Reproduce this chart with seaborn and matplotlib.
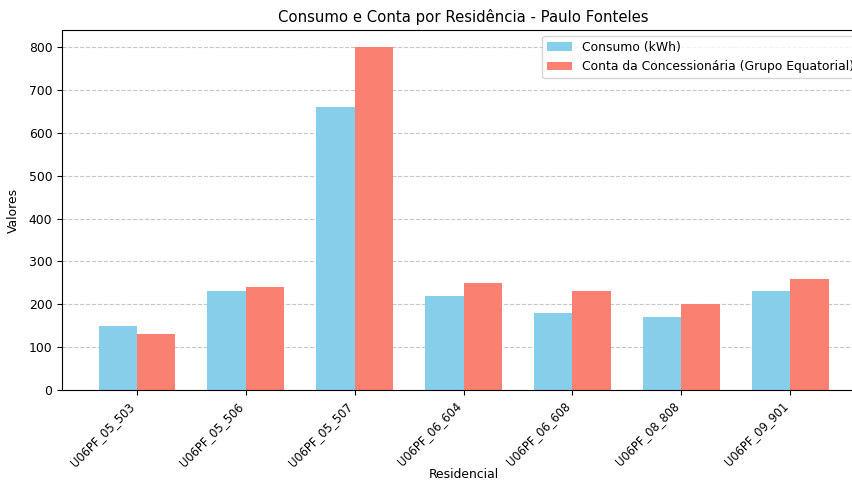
import pandas as pd
import matplotlib.pyplot as plt
import seaborn as sns

# Dados por residência
residencias = ['U06PF_05_503', 'U06PF_05_506', 'U06PF_05_507', 'U06PF_06_604',
               'U06PF_06_608', 'U06PF_08_808', 'U06PF_09_901']
consumo = [150, 230, 660, 220, 180, 170, 230]
conta = [130, 240, 800, 250, 230, 200, 260]

serie_consumo = 'Consumo (kWh)'
serie_conta = 'Conta da Concessionária (Grupo Equatorial)'

df = pd.DataFrame({
    'Residencial': residencias * 2,
    'Valor': consumo + conta,
    'Serie': [serie_consumo] * len(residencias) + [serie_conta] * len(residencias),
})

plt.rcParams['font.size'] = 8.9

fig = plt.figure(figsize=(8.53, 4.82), dpi=100)
ax = fig.add_axes([62 / 853, 92 / 482, 803 / 853, 360 / 482])

sns.barplot(data=df, x='Residencial', y='Valor', hue='Serie',
            palette=['skyblue', 'salmon'], width=0.7, gap=0,
            saturation=1, ax=ax)

ax.set_xlim(-0.685, 6.685)
ax.set_ylim(0, 840)
ax.set_title('Consumo e Conta por Residência - Paulo Fonteles', fontsize=10.7)
ax.set_xlabel('Residencial')
ax.xaxis.set_label_coords(0.5, -0.217)
ax.set_ylabel('Valores', labelpad=6)
ax.set_xticks(range(len(residencias)))
ax.set_xticklabels(residencias, rotation=45, ha='right', fontsize=8.3)
ax.spines['right'].set_visible(False)
ax.yaxis.grid(True, linestyle='--', alpha=0.7)
ax.set_axisbelow(True)
ax.legend(loc='upper right', title=None)

plt.savefig('out.png', dpi=100)
